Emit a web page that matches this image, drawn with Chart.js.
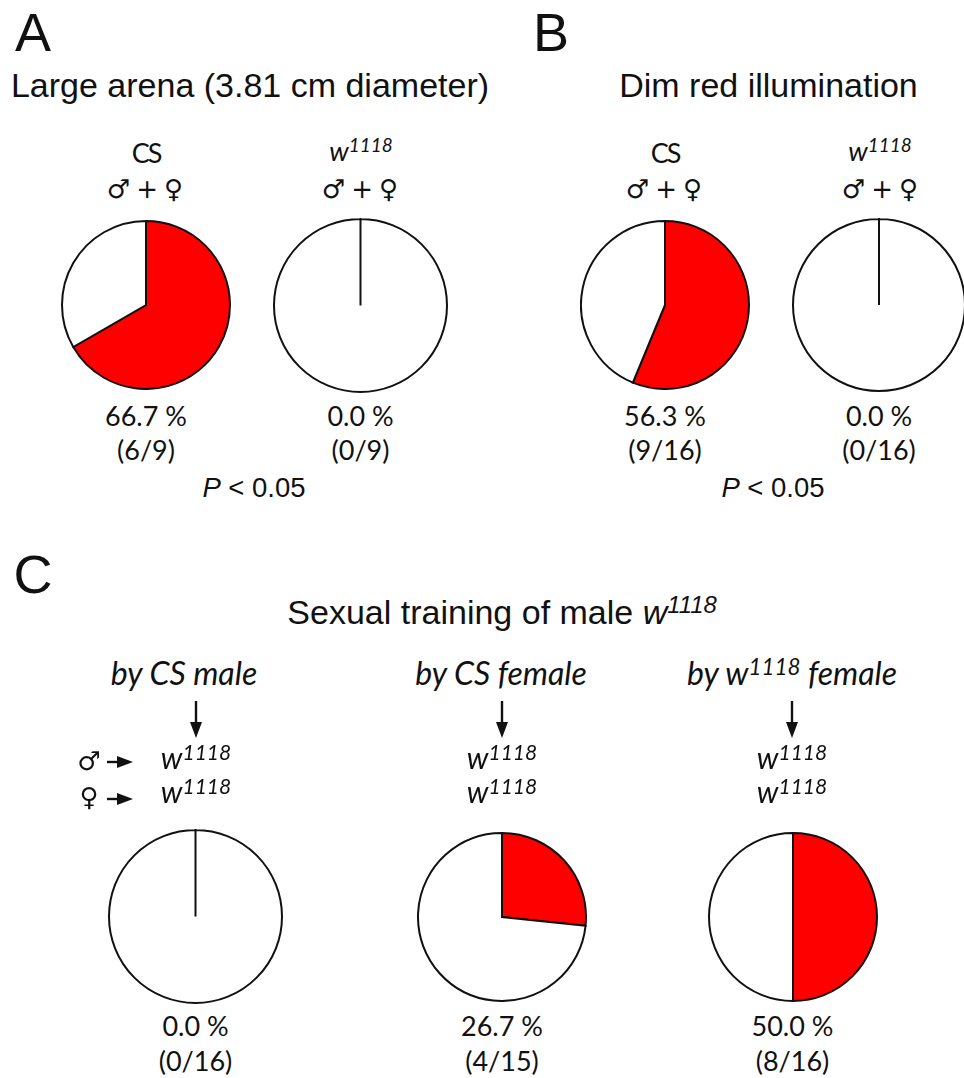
<!DOCTYPE html>
<html>
<head>
<meta charset="utf-8">
<script src="https://cdn.jsdelivr.net/npm/chart.js@4"></script>
<style>
html, body { margin: 0; background: #fff; }
#page { position: relative; width: 964px; height: 1078px; overflow: hidden; color: #111; }
#page canvas { position: absolute; }
.t { position: absolute; white-space: nowrap; line-height: 1; transform: translate(-50%, -50%); font-family: Lato, "Open Sans", sans-serif; }
.letter { font-family: "Liberation Sans", Arial, sans-serif; font-size: 54px; }
.head { font-family: "Liberation Sans", Arial, sans-serif; font-size: 34px; }
.lab { font-size: 27px; }
.cs { font-size: 27px; letter-spacing: -2px; }
.by { font-size: 32px; }
.gen { font-size: 30px; }
.val { font-size: 27px; }
.p { font-family: "Liberation Sans", Arial, sans-serif; font-size: 27.5px; }
.sym { font-family: "DejaVu Sans", sans-serif; font-size: 26px; font-weight: bold; word-spacing: -3px; }
sup { font-size: 70%; line-height: 0; vertical-align: 0.45em; }
i { font-style: italic; }
svg { position: absolute; overflow: visible; }
</style>
</head>
<body>
<div id="page"></div>
<script>
// flies showing the behaviour / flies tested, one entry per pie
var pieNames = ['A CS', 'A w1118', 'B CS', 'B w1118', 'C by CS male', 'C by CS female', 'C by w1118 female'];
var hits = [6, 0, 9, 0, 0, 4, 8];
var totals = [9, 9, 16, 16, 16, 15, 16];
var percentLabels = ['66.7 %', '0.0 %', '56.3 %', '0.0 %', '0.0 %', '26.7 %', '50.0 %'];
var countLabels = ['(6/9)', '(0/9)', '(9/16)', '(0/16)', '(0/16)', '(4/15)', '(8/16)'];

// pie centre x, centre y, radius in page pixels
var pieBoxes = [
  [146, 305, 84], [360.5, 305, 86.5], [665, 305, 84], [879, 305, 86],
  [195.5, 916, 86.5], [502, 917, 84], [792.5, 917, 84]
];

var page = document.getElementById('page');
var W1118 = '<i>w<sup>1118</sup></i>';
var SEXES = '\u2642 <span style="font-weight:normal">+</span> \u2640';

function text(x, y, html, cls) {
  var el = document.createElement('div');
  el.className = 't ' + (cls || '');
  el.style.left = x + 'px';
  el.style.top = y + 'px';
  el.innerHTML = html;
  page.appendChild(el);
}

function arrow(x1, y1, x2, y2) {
  var ns = 'http://www.w3.org/2000/svg';
  var svg = document.createElementNS(ns, 'svg');
  svg.setAttribute('width', 964);
  svg.setAttribute('height', 1078);
  svg.style.left = 0;
  svg.style.top = 0;
  var dx = x2 - x1, dy = y2 - y1, len = Math.sqrt(dx * dx + dy * dy);
  var ux = dx / len, uy = dy / len, hl = 16, hw = 6;
  var line = document.createElementNS(ns, 'line');
  line.setAttribute('x1', x1); line.setAttribute('y1', y1);
  line.setAttribute('x2', x2 - ux * hl); line.setAttribute('y2', y2 - uy * hl);
  line.setAttribute('stroke', '#111'); line.setAttribute('stroke-width', 2.4);
  var head = document.createElementNS(ns, 'polygon');
  var bx = x2 - ux * hl, by = y2 - uy * hl;
  head.setAttribute('points', x2 + ',' + y2 + ' ' + (bx - uy * hw) + ',' + (by + ux * hw) + ' ' + (bx + uy * hw) + ',' + (by - ux * hw));
  head.setAttribute('fill', '#111');
  svg.appendChild(line);
  svg.appendChild(head);
  page.appendChild(svg);
}

pieNames.forEach(function (name, i) {
  var box = pieBoxes[i];
  var size = Math.round(box[2] * 2 + 2);
  var canvas = document.createElement('canvas');
  canvas.width = size;
  canvas.height = size;
  canvas.style.left = (box[0] - size / 2) + 'px';
  canvas.style.top = (box[1] - size / 2) + 'px';
  canvas.style.width = size + 'px';
  canvas.style.height = size + 'px';
  page.appendChild(canvas);
  new Chart(canvas, {
    type: 'pie',
    data: {
      labels: ['Yes', 'No'],
      datasets: [{
        label: name,
        data: [hits[i], totals[i] - hits[i]],
        backgroundColor: ['#ff0000', '#ffffff'],
        borderColor: '#111',
        borderWidth: 2,
        borderJoinStyle: 'miter'
      }]
    },
    options: {
      responsive: false,
      animation: false,
      events: [],
      plugins: { legend: { display: false }, tooltip: { enabled: false } }
    }
  });
  text(box[0], i < 4 ? 415 : 1025, percentLabels[i], 'val');
  text(box[0], i < 4 ? 449 : 1060, countLabels[i], 'val');
});

text(33, 32, 'A', 'letter');
text(551, 32, 'B', 'letter');
text(33, 574, 'C', 'letter');
text(250, 85, 'Large arena (3.81 cm diameter)', 'head');
text(768.5, 85, 'Dim red illumination', 'head');
text(502, 612, 'Sexual training of male <i>w<sup>1118</sup></i>', 'head');

text(146, 152, 'CS', 'cs');
text(361, 150, W1118, 'lab');
text(665, 152, 'CS', 'cs');
text(880, 150, W1118, 'lab');
[145, 360, 664, 880].forEach(function (x) {
  text(x, 189, SEXES, 'sym');
});
text(254, 488, '<i>P</i> &lt; 0.05', 'p');
text(773, 488, '<i>P</i> &lt; 0.05', 'p');

text(184, 673, '<i>by CS male</i>', 'by');
text(501, 673, '<i>by CS female</i>', 'by');
text(792, 673, '<i>by w<sup>1118</sup> female</i>', 'by');
[196, 502, 792].forEach(function (x) {
  arrow(x, 701, x, 738);
  text(x, 757, W1118, 'gen');
  text(x, 791, W1118, 'gen');
});
text(89, 761, '\u2642', 'sym');
text(89, 797, '\u2640', 'sym');
arrow(107, 762, 133, 762);
arrow(107, 799, 133, 799);
</script>
</body>
</html>
